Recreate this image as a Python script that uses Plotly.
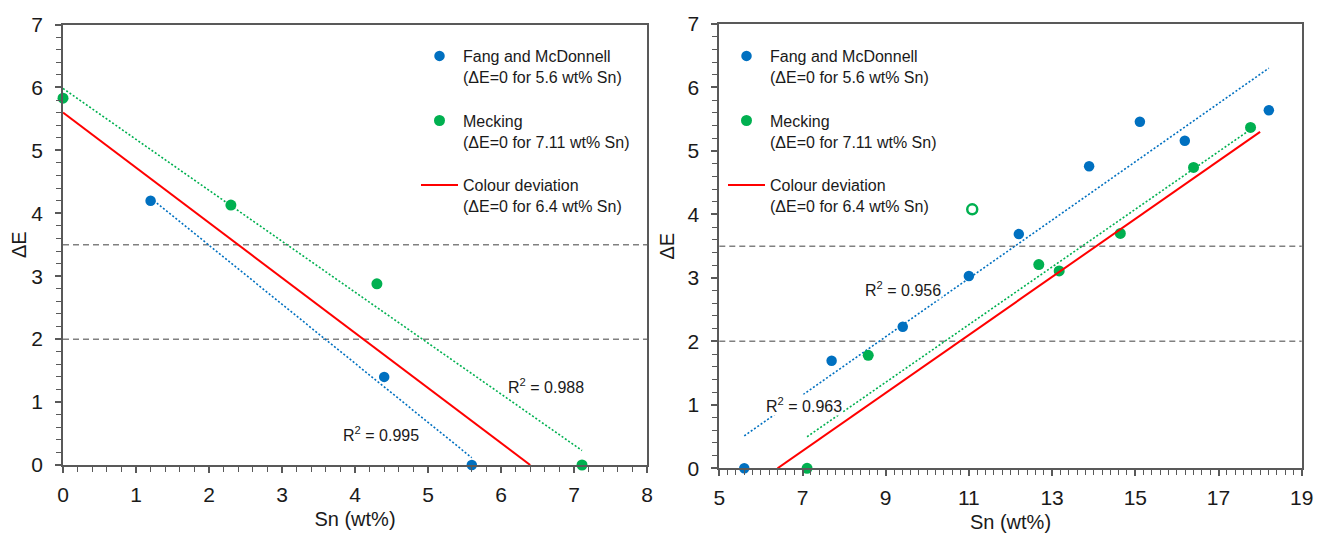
import numpy as np
import plotly.graph_objects as go

# ---------------- data ----------------
# Left panel
left_fang_x = [1.2, 4.4, 5.6]
left_fang_y = [4.2, 1.4, 0.0]
left_meck_x = [0.0, 2.3, 4.3, 7.11]
left_meck_y = [5.83, 4.13, 2.88, 0.0]
left_dev_x = [0.0, 6.4]
left_dev_y = [5.6, 0.0]
left_r2_text = ["R<sup>2</sup> = 0.995", "R<sup>2</sup> = 0.988"]
left_r2_x = [4.36, 6.62]
left_r2_y = [0.50, 1.26]

# Right panel
right_fang_x = [5.6, 7.7, 9.41, 11.0, 12.2, 13.89, 15.11, 16.19, 18.21]
right_fang_y = [0.0, 1.695, 2.23, 3.03, 3.69, 4.76, 5.46, 5.16, 5.64]
right_meck_x = [7.11, 8.58, 12.68, 13.17, 14.64, 16.4, 17.77]
right_meck_y = [0.0, 1.78, 3.21, 3.11, 3.70, 4.74, 5.37]
right_outlier_x = [11.08]
right_outlier_y = [4.08]
right_dev_x = [6.4, 18.0]
right_dev_y = [0.0, 5.3]
right_r2_text = ["R<sup>2</sup> = 0.963", "R<sup>2</sup> = 0.956"]
right_r2_x = [7.04, 9.41]
right_r2_y = [1.0, 2.83]

thresholds = [2.0, 3.5]

names = ["Fang and McDonnell<br>(ΔE=0 for 5.6 wt% Sn)",
         "Mecking<br>(ΔE=0 for 7.11 wt% Sn)",
         "Colour deviation<br>(ΔE=0 for 6.4 wt% Sn)"]

# ---------------- style ----------------
FONT = "Liberation Sans, Arial, sans-serif"
BLUE = "#0070C0"
GREEN = "#00B050"
RED = "#FF0000"
AXC = "#595959"
TXT = "#1a1a1a"

# the page body has an 8px margin; the figure is sized to fit the 1322x539 window
W, H, OFF = 1314, 531, 8


def fx_(px):
    return (px - OFF) / W


def fy_(py):
    return 1 - (py - OFF) / H


def fit_line(x, y):
    k, b = np.polyfit(x, y, 1)
    xs = np.array([min(x), max(x)])
    return xs, k * xs + b


fig = go.Figure()


def add_panel(xa, ya, leg, fx, fy, mx, my, dx, dy):
    tx, ty = fit_line(fx, fy)
    fig.add_trace(go.Scatter(x=tx, y=ty, mode="lines", xaxis=xa, yaxis=ya,
                             line=dict(color=BLUE, width=1.6, dash="2px,2px"),
                             showlegend=False, hoverinfo="skip"))
    tx, ty = fit_line(mx, my)
    fig.add_trace(go.Scatter(x=tx, y=ty, mode="lines", xaxis=xa, yaxis=ya,
                             line=dict(color=GREEN, width=1.6, dash="2px,2px"),
                             showlegend=False, hoverinfo="skip"))
    fig.add_trace(go.Scatter(x=fx, y=fy, mode="markers", name=names[0], xaxis=xa, yaxis=ya,
                             marker=dict(color=BLUE, size=10.5), legend=leg, cliponaxis=False,
                             legendgroup=leg + "a"))
    fig.add_trace(go.Scatter(x=mx, y=my, mode="markers", name=names[1], xaxis=xa, yaxis=ya,
                             marker=dict(color=GREEN, size=11), legend=leg, cliponaxis=False,
                             legendgroup=leg + "b"))
    fig.add_trace(go.Scatter(x=dx, y=dy, mode="lines", name=names[2], xaxis=xa, yaxis=ya,
                             line=dict(color=RED, width=2), legend=leg, cliponaxis=False,
                             legendgroup=leg + "c"))


add_panel("x", "y", "legend", left_fang_x, left_fang_y, left_meck_x, left_meck_y,
          left_dev_x, left_dev_y)
add_panel("x2", "y2", "legend2", right_fang_x, right_fang_y, right_meck_x, right_meck_y,
          right_dev_x, right_dev_y)

fig.add_trace(go.Scatter(x=right_outlier_x, y=right_outlier_y, mode="markers", xaxis="x2", yaxis="y2",
                         marker=dict(symbol="circle-open", color=GREEN, size=10, line=dict(width=2.5)),
                         showlegend=False))

for xr, yr in [("x", "y"), ("x2", "y2")]:
    for t in thresholds:
        fig.add_shape(type="line", xref=xr + " domain", yref=yr, x0=0, x1=1, y0=t, y1=t,
                      line=dict(color="#808080", width=1.5, dash="6px,4px"), layer="below")

for txt, x, y in zip(left_r2_text, left_r2_x, left_r2_y):
    fig.add_annotation(x=x, y=y, xref="x", yref="y", text=txt, showarrow=False,
                       font=dict(family=FONT, size=16, color=TXT), bgcolor="white", borderpad=0)
for txt, x, y in zip(right_r2_text, right_r2_x, right_r2_y):
    fig.add_annotation(x=x, y=y, xref="x2", yref="y2", text=txt, showarrow=False,
                       font=dict(family=FONT, size=16, color=TXT), bgcolor="white", borderpad=0)

tickfont = dict(family=FONT, size=21, color=TXT)
titlefont = dict(family=FONT, size=20, color=TXT)


def xaxis(domain, rng, dtick, anchor):
    return dict(domain=domain, range=rng, dtick=dtick, tick0=rng[0], anchor=anchor,
                showgrid=False, zeroline=False, showline=True, linecolor=AXC, linewidth=1.7,
                mirror=True, ticks="outside", ticklen=6, tickwidth=1.5, tickcolor=AXC,
                tickfont=tickfont, ticklabelstandoff=4, automargin=False,
                minor=dict(dtick=0.2, tick0=rng[0], ticks="outside", ticklen=5, tickwidth=1.3,
                           tickcolor=AXC, showgrid=False),
                title=dict(text="Sn (wt%)", font=titlefont, standoff=7))


def yaxis(domain, anchor):
    return dict(domain=domain, range=[0, 7], dtick=1, anchor=anchor,
                showgrid=False, zeroline=False, showline=True, linecolor=AXC, linewidth=1.7,
                mirror=True, ticks="outside", ticklen=6, tickwidth=1.5, tickcolor=AXC,
                tickfont=tickfont, ticklabelstandoff=8, automargin=False,
                minor=dict(dtick=0.2, ticks="outside", ticklen=5, tickwidth=1.3,
                           tickcolor=AXC, showgrid=False),
                title=dict(text="ΔE", font=titlefont, standoff=8))


legend_common = dict(font=dict(family=FONT, size=16, color=TXT), valign="top",
                     bgcolor="rgba(0,0,0,0)", tracegroupgap=20, itemwidth=37,
                     xanchor="left", yanchor="top")

fig.update_layout(
    width=W, height=H,
    margin=dict(l=0, r=0, t=0, b=0),
    paper_bgcolor="white", plot_bgcolor="white",
    template="none",
    xaxis=xaxis([fx_(63), fx_(647)], [0, 8], 1, "y"),
    yaxis=yaxis([fy_(465), fy_(24.5)], "x"),
    xaxis2=xaxis([fx_(719.3), fx_(1301.7)], [5, 19], 2, "y2"),
    yaxis2=yaxis([fy_(468.3), fy_(24)], "x2"),
    legend=dict(x=fx_(416), y=fy_(39), **legend_common),
    legend2=dict(x=fx_(723), y=fy_(39), **legend_common),
    showlegend=True,
)

fig.write_html("out.html")
